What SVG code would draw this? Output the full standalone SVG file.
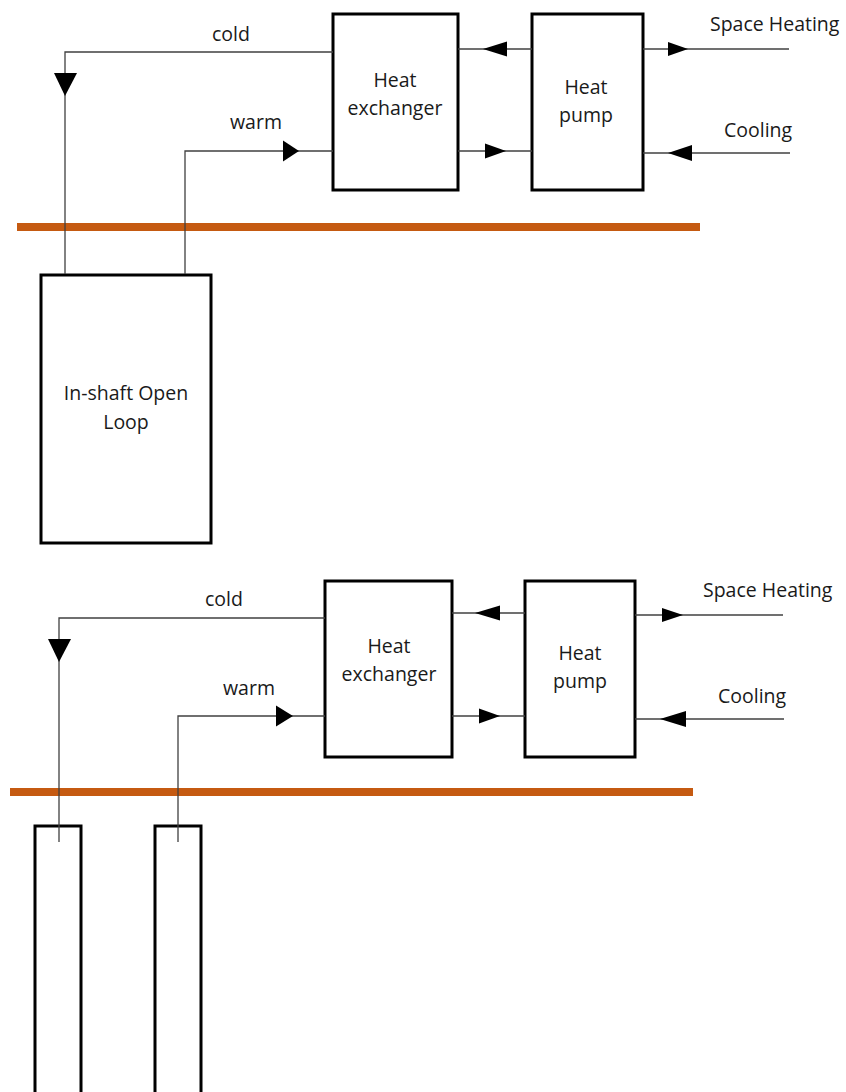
<svg xmlns="http://www.w3.org/2000/svg" width="846" height="1092" viewBox="0 0 846 1092">
<style>
.box{fill:#fff;stroke:#000;stroke-width:3}
.ground{stroke:#C55A11;stroke-width:8;fill:none}
.pipe{fill:none;stroke:#404040;stroke-width:1.3}
.arrow{fill:#000}
text{font-family:"Open Sans","Liberation Sans",sans-serif;font-size:19.5px;fill:#1a1a1a}
.c{text-anchor:middle}
</style>
<rect width="846" height="1092" fill="#fff"/>
<g id="ground">
<line class="ground" x1="17" y1="227" x2="700" y2="227"/>
<line class="ground" x1="10" y1="792" x2="693" y2="792"/>
</g>
<g id="hx1"><rect class="box" x="333" y="14" width="125" height="176"/><text class="c" x="395" y="87">Heat</text><text class="c" x="395" y="115">exchanger</text></g>
<g id="hp1"><rect class="box" x="532" y="14" width="111" height="176"/><text class="c" x="586" y="94">Heat</text><text class="c" x="586" y="122">pump</text></g>
<g id="loop1"><rect class="box" x="41" y="275" width="170" height="268"/><text class="c" x="126" y="400">In-shaft Open</text><text class="c" x="126" y="429">Loop</text></g>
<g id="hx2"><rect class="box" x="325" y="581" width="127" height="176"/><text class="c" x="389" y="653">Heat</text><text class="c" x="389" y="681">exchanger</text></g>
<g id="hp2"><rect class="box" x="525" y="581" width="110" height="176"/><text class="c" x="580" y="660">Heat</text><text class="c" x="580" y="688">pump</text></g>
<g id="pile1"><rect class="box" x="35" y="826" width="46" height="300"/></g>
<g id="pile2"><rect class="box" x="155" y="826" width="46" height="300"/></g>
<g id="labels">
<text x="212" y="41">cold</text>
<text x="230" y="129">warm</text>
<text x="710" y="31">Space Heating</text>
<text x="724" y="137">Cooling</text>
<text x="205" y="606">cold</text>
<text x="223" y="695">warm</text>
<text x="703" y="597">Space Heating</text>
<text x="718" y="703">Cooling</text>
</g>
<g id="connectors">
<path class="pipe" d="M333,52 H65 V274"/>
<path class="pipe" d="M185,274 V151 H333"/>
<path class="pipe" d="M458,49 H532"/>
<path class="pipe" d="M458,151 H532"/>
<path class="pipe" d="M643,49 H789"/>
<path class="pipe" d="M643,153 H790"/>
<polygon class="arrow" points="65,96 54,73 77,73"/>
<polygon class="arrow" points="299,151 283,140.5 283,161.5"/>
<polygon class="arrow" points="483,49 507,41.5 507,56.5"/>
<polygon class="arrow" points="506,151 485,143.5 485,158.5"/>
<polygon class="arrow" points="688,49 668,42 668,56"/>
<polygon class="arrow" points="668,153 692,145 692,161"/>
<path class="pipe" d="M325,618 H59 V842"/>
<path class="pipe" d="M178,842 V716 H325"/>
<path class="pipe" d="M452,613 H525"/>
<path class="pipe" d="M452,716 H525"/>
<path class="pipe" d="M635,615 H783"/>
<path class="pipe" d="M635,719 H784"/>
<polygon class="arrow" points="59,662 48,639 71,639"/>
<polygon class="arrow" points="293,716 276,705.5 276,726.5"/>
<polygon class="arrow" points="475,613 500,605.5 500,620.5"/>
<polygon class="arrow" points="500,716 479,708.5 479,723.5"/>
<polygon class="arrow" points="683,615 662,608 662,622"/>
<polygon class="arrow" points="660,719 686,711 686,727"/>
</g>
</svg>
